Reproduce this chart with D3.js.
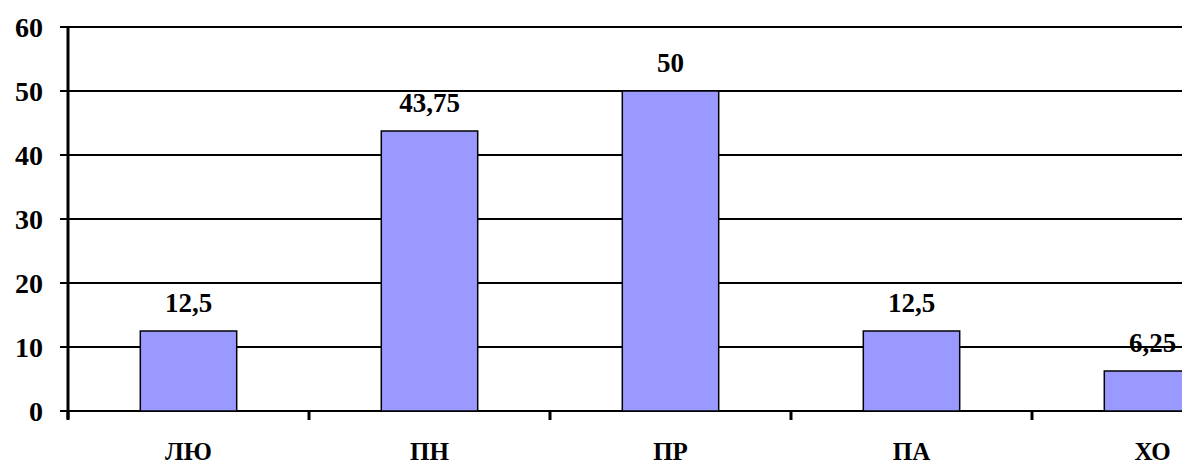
<!DOCTYPE html>
<html>
<head>
<meta charset="utf-8">
<script src="https://cdn.jsdelivr.net/npm/d3@7"></script>
<style>
  html, body { margin: 0; padding: 0; background: #fff; }
  svg { display: block; }
</style>
</head>
<body>
<svg id="chart" width="1182" height="465"></svg>
<script>
const categories = ["ЛЮ", "ПН", "ПР", "ПА", "ХО"];
const values = [12.5, 43.75, 50, 12.5, 6.25];
const yTicks = [0, 10, 20, 30, 40, 50, 60];

(function () {
const FONT = "'Liberation Serif', 'Times New Roman', Times, 'DejaVu Serif', serif";
const svg = d3.select("#chart");
const mLeft = 68, mTop = 27, mBottom = 411;
const step = 241;

const x = d3.scaleBand()
  .domain(categories)
  .range([mLeft, mLeft + step * categories.length])
  .paddingInner(0.6)
  .paddingOuter(0.3);

const y = d3.scaleLinear().domain([0, 60]).range([mBottom, mTop]);

const fmt = v => String(v).replace(".", ",");

// gridlines
svg.append("g").selectAll("line").data(yTicks).join("line")
  .attr("x1", mLeft - 8).attr("x2", 1182 + 100)
  .attr("y1", d => y(d)).attr("y2", d => y(d))
  .attr("stroke", "#000").attr("stroke-width", 2.2);

// bars
svg.append("g").selectAll("rect").data(values).join("rect")
  .attr("x", (d, i) => x(categories[i]))
  .attr("width", x.bandwidth())
  .attr("y", d => y(d))
  .attr("height", d => y(0) - y(d))
  .attr("fill", "#9999FF")
  .attr("stroke", "#000")
  .attr("stroke-width", 1.5);

// y axis line
svg.append("line")
  .attr("x1", mLeft).attr("x2", mLeft)
  .attr("y1", y(60) - 1).attr("y2", mBottom + 8)
  .attr("stroke", "#000").attr("stroke-width", 3);

// x-axis boundary ticks
const gap = (x.step() - x.bandwidth()) / 2;
const bounds = categories.map(c => x(c) - gap).concat([x(categories[categories.length - 1]) + x.bandwidth() + gap]);
svg.append("g").selectAll("line").data(bounds).join("line")
  .attr("x1", d => d).attr("x2", d => d)
  .attr("y1", mBottom).attr("y2", mBottom + 9)
  .attr("stroke", "#000").attr("stroke-width", 3);

function styleText(sel, size) {
  return sel.attr("font-family", FONT).attr("font-weight", "bold")
    .attr("font-size", size).attr("fill", "#000");
}

// y tick labels
styleText(svg.append("g").selectAll("text").data(yTicks).join("text")
  .attr("x", 43).attr("y", d => y(d))
  .attr("dy", "0.34em")
  .attr("text-anchor", "end"), 28)
  .text(d => d);

// value labels
styleText(svg.append("g").selectAll("text").data(values).join("text")
  .attr("x", (d, i) => x(categories[i]) + x.bandwidth() / 2)
  .attr("y", d => y(d) - 19)
  .attr("text-anchor", "middle"), 27)
  .text(d => fmt(d));

// category labels
styleText(svg.append("g").selectAll("text").data(categories).join("text")
  .attr("x", d => x(d) + x.bandwidth() / 2)
  .attr("y", 460)
  .attr("text-anchor", "middle"), 25)
  .text(d => d);
})();
</script>
</body>
</html>
